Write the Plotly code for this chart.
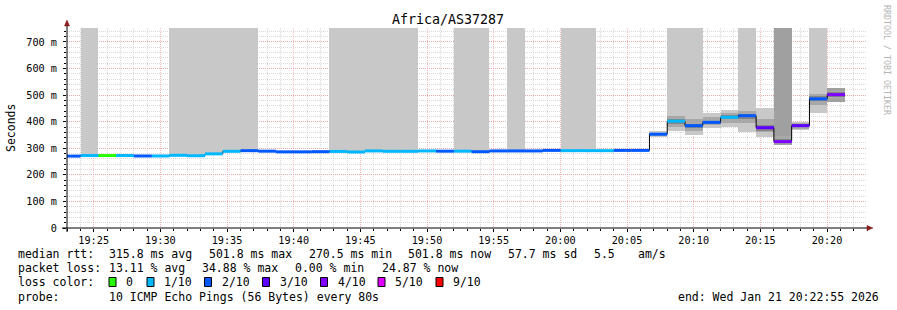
import plotly.graph_objects as go
from datetime import datetime, timedelta

# ---------------- data ----------------
T0 = datetime(2026, 1, 21, 19, 22, 41)   # start of first 80 s step
STEP_S = 80
N = 44
step_start = [T0 + timedelta(seconds=STEP_S * k) for k in range(N)]
step_end = [t + timedelta(seconds=STEP_S) for t in step_start]
step_mid = [t + timedelta(seconds=STEP_S / 2) for t in step_start]

median_ms = [270.5, 272.5, 272.5, 272.5, 271.0, 271.0, 273.5, 272.0, 279.0, 288.5,
             291.0, 289.0, 286.5, 286.5, 287.0, 288.0, 286.0, 290.0, 288.5, 288.5,
             290.0, 289.0, 289.0, 287.0, 290.0, 290.0, 290.0, 292.0, 291.0, 291.0,
             291.0, 292.0, 292.0, 353.0, 402.0, 385.0, 397.5, 416.5, 422.5, 377.5,
             325.0, 385.0, 486.0, 501.8]

loss_level = [2, 1, 0, 1, 2, 1, 1, 1, 1, 1,
              2, 2, 2, 2, 2, 1, 1, 1, 1, 1,
              1, 2, 1, 2, 2, 2, 2, 2, 1, 1,
              1, 2, 2, 2, 1, 2, 2, 1, 2, 3,
              4, 3, 2, 4]

smoke_outer_lo = [269.0, 272.0, 271.0, 271.0, 269.5, 269.5, 272.0, 270.5, 277.5, 287.0,
                  289.5, 287.5, 285.0, 285.0, 285.5, 286.5, 284.5, 288.5, 287.0, 287.0,
                  288.5, 287.5, 287.5, 285.5, 288.5, 288.5, 288.5, 290.5, 289.5, 289.5,
                  289.5, 286.0, 290.5, 344.0, 366.0, 351.0, 378.0, 381.0, 360.0, 344.0,
                  312.0, 369.0, 434.0, 475.0]
smoke_outer_hi = [273.0, 800.0, 275.0, 275.0, 273.0, 273.0, 800.0, 800.0, 800.0, 800.0,
                  800.0, 291.5, 289.0, 289.0, 293.0, 800.0, 800.0, 800.0, 800.0, 800.0,
                  292.5, 293.0, 800.0, 800.0, 292.5, 800.0, 292.5, 294.5, 800.0, 800.0,
                  293.5, 294.0, 294.5, 364.0, 800.0, 800.0, 431.0, 444.0, 800.0, 453.0,
                  800.0, 400.0, 800.0, 526.0]
smoke_mid_lo = [None] * 33 + [347.0, 381.0, 364.0, 388.0, 396.0, 394.0, 362.0, 318.0, 374.0, 463.0, 484.0]
smoke_mid_hi = [None] * 33 + [359.0, 421.0, 409.0, 419.0, 432.0, 441.0, 409.0, 345.0, 396.0, 503.0, 517.0]
smoke_in_lo = [None] * 33 + [349.0, 393.0, 378.0, 391.0, 410.0, 412.0, 366.0, 322.0, 379.0, 476.0, 494.0]
smoke_in_hi = [None] * 33 + [357.0, 410.0, 393.0, 404.0, 424.0, 430.0, 386.0, 336.0, 391.0, 495.0, 510.0]

loss_labels = ["0", "1/10", "2/10", "3/10", "4/10", "5/10", "9/10"]
loss_colors = ["#26ff00", "#00b8ff", "#0059ff", "#5e00ff", "#7e00ff", "#dd00ff", "#ff0000"]

y_tick_vals = [0, 100, 200, 300, 400, 500, 600, 700]
y_tick_text = ["0", "100 m", "200 m", "300 m", "400 m", "500 m", "600 m", "700 m"]

stats_rtt = [("median rtt:", 16), ("315.8 ms avg", 107.3), ("501.8 ms max", 206.7),
             ("270.5 ms min", 306.7), ("501.8 ms now", 406.3), ("57.7 ms sd", 506.3),
             ("5.5", 592.3), ("am/s", 635.5)]
stats_loss = [("packet loss:", 16), ("13.11 % avg", 107.3), ("34.88 % max", 200.0),
              ("0.00 % min", 293.3), ("24.87 % now", 380.0)]
legend_box_x = [109, 147, 204.5, 262.5, 320.5, 378, 436]

FONT = "DejaVu Sans Mono"
W, H = 897, 310
L, R, T, B = 67, 867, 28, 228


def px(x):
    return (x - L) / (R - L)


def py(y):
    return (B - y) / (B - T)


fig = go.Figure()

# smoke
outer_colors = ["#a0a0a0" if lv >= 4 else "#c8c8c8" for lv in loss_level]
fig.add_trace(go.Bar(x=step_mid, y=[h - l for l, h in zip(smoke_outer_lo, smoke_outer_hi)],
                     base=smoke_outer_lo, width=STEP_S * 1000,
                     marker=dict(color=outer_colors, line=dict(width=0)), hoverinfo="skip"))
fig.add_trace(go.Bar(x=step_mid, y=[(h - l) if l is not None else None for l, h in zip(smoke_mid_lo, smoke_mid_hi)],
                     base=smoke_mid_lo, width=STEP_S * 1000,
                     marker=dict(color="#a8a8a8", line=dict(width=0)), hoverinfo="skip"))
fig.add_trace(go.Bar(x=step_mid, y=[(h - l) if l is not None else None for l, h in zip(smoke_in_lo, smoke_in_hi)],
                     base=smoke_in_lo, width=STEP_S * 1000,
                     marker=dict(color="#858585", line=dict(width=0)), hoverinfo="skip"))

# black median step line
fig.add_trace(go.Scatter(x=step_start + [step_end[-1]], y=median_ms + [median_ms[-1]],
                         mode="lines", line=dict(color="black", width=1, shape="hv"),
                         hoverinfo="skip"))

# coloured median segments by loss
for lv, col in enumerate(loss_colors):
    xs, ys = [], []
    for k in range(N):
        if loss_level[k] == lv:
            xs += [step_start[k], step_end[k], None]
            ys += [median_ms[k], median_ms[k], None]
    if xs:
        fig.add_trace(go.Scatter(x=xs, y=ys, mode="lines",
                                 line=dict(color=col, width=3), hoverinfo="skip"))

grid_major = "rgba(240,140,140,0.6)"
grid_minor = "rgba(185,185,185,0.55)"

fig.update_layout(
    width=W, height=H,
    margin=dict(l=L, r=W - R, t=T, b=H - B),
    paper_bgcolor="white", plot_bgcolor="white",
    showlegend=False, barmode="overlay", bargap=0,
    font=dict(family=FONT, color="black", size=10.2),
    xaxis=dict(type="date",
               range=[datetime(2026, 1, 21, 19, 23, 0), datetime(2026, 1, 21, 20, 23, 0)],
               tickmode="linear", tick0=datetime(2026, 1, 21, 19, 25, 0), dtick=300000,
               tickformat="%H:%M", showgrid=True, gridcolor=grid_major, griddash="1px,1px",
               gridwidth=1, ticks="outside", ticklen=3, tickcolor="black",
               tickfont=dict(family=FONT, size=10.2, color="black"),
               minor=dict(dtick=60000, showgrid=True, gridcolor=grid_minor, griddash="1px,1px",
                          ticks="outside", ticklen=2, tickcolor="black"),
               showline=False, zeroline=False, fixedrange=True),
    yaxis=dict(range=[0, 752.5], tickmode="array", tickvals=y_tick_vals, ticktext=y_tick_text,
               showgrid=True, gridcolor=grid_major, griddash="1px,1px", gridwidth=1,
               ticks="outside", ticklen=3, tickcolor="black",
               tickfont=dict(family=FONT, size=10.2, color="black"),
               minor=dict(tickmode="linear", tick0=0, dtick=20, showgrid=True, gridcolor=grid_minor,
                          griddash="1px,1px", ticks="outside", ticklen=2, tickcolor="black"),
               showline=False, zeroline=False, fixedrange=True, ticklabelstandoff=4),
)

shapes = []
# axis lines and arrows
shapes.append(dict(type="line", xref="paper", yref="paper", x0=px(62), x1=px(868), y0=py(228), y1=py(228),
                   line=dict(color="black", width=1)))
shapes.append(dict(type="line", xref="paper", yref="paper", x0=px(67), x1=px(67), y0=py(232), y1=py(25),
                   line=dict(color="black", width=1)))
shapes.append(dict(type="path", xref="paper", yref="paper",
                   path=f"M {px(867)} {py(225.5)} L {px(873)} {py(228)} L {px(867)} {py(230.5)} Z",
                   fillcolor="#8b1a1a", line=dict(color="#8b1a1a", width=0.5)))
shapes.append(dict(type="path", xref="paper", yref="paper",
                   path=f"M {px(64.5)} {py(26)} L {px(67)} {py(20)} L {px(69.5)} {py(26)} Z",
                   fillcolor="#8b1a1a", line=dict(color="#8b1a1a", width=0.5)))
# legend colour boxes
for bx, col in zip(legend_box_x, loss_colors):
    shapes.append(dict(type="rect", xref="paper", yref="paper", x0=px(bx), x1=px(bx + 7),
                       y0=py(286.5), y1=py(277.5), fillcolor=col, line=dict(color="black", width=1)))
fig.update_layout(shapes=shapes)

ann = []


def text(s, x, y, size=11.5, anchor="left", color="black", angle=0):
    ann.append(dict(text=s, xref="paper", yref="paper", x=px(x), y=py(y), xanchor=anchor,
                    yanchor="middle", showarrow=False, textangle=angle,
                    font=dict(family=FONT, size=size, color=color)))


text("Africa/AS37287", 448, 19.5, size=13.3, anchor="center")
text("Seconds", 11, 128, size=11.5, anchor="center", angle=-90)
text("RRDTOOL / TOBI OETIKER", 887, 60, size=8.3, anchor="center", color="#b4b4b4", angle=90)
for s, x in stats_rtt:
    text(s, x, 254.3)
for s, x in stats_loss:
    text(s, x, 268.3)
text("loss color:", 16, 282)
for bx, lab in zip(legend_box_x, loss_labels):
    text(lab, bx + 15, 282)
text("probe:", 16, 296.5)
text("10 ICMP Echo Pings (56 Bytes) every 80s", 107.3, 296.5)
text("end: Wed Jan 21 20:22:55 2026", 881, 296.5, anchor="right")
fig.update_layout(annotations=ann)

fig.write_html("out.html")
